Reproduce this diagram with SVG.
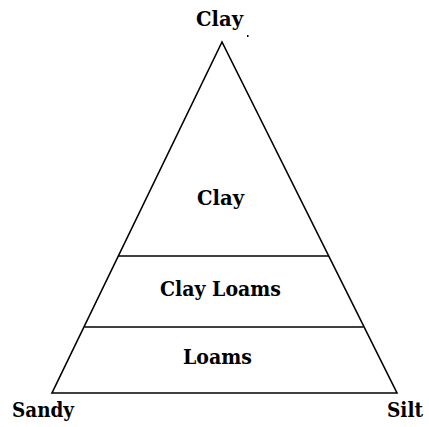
<svg xmlns="http://www.w3.org/2000/svg" width="429" height="427" viewBox="0 0 429 427">
<style>
text{font-family:'DejaVu Serif',serif;font-weight:bold;font-size:21px;fill:#000;text-anchor:middle}
.ln{stroke:#000;stroke-width:1.6;fill:none}
</style>
<rect width="429" height="427" fill="#fff"/>
<g id="connectors">
<polygon class="ln" points="222,42 52,393 397,393"/>
<line class="ln" x1="118.5" y1="256" x2="329" y2="256"/>
<line class="ln" x1="84.5" y1="327" x2="363.5" y2="327"/>
</g>
<g id="apex-label"><text x="219.5" y="26" textLength="47" lengthAdjust="spacingAndGlyphs">Clay</text></g>
<rect x="247" y="35" width="1.5" height="2" fill="#000"/>
<g id="clay"><text x="220.5" y="205" textLength="47" lengthAdjust="spacingAndGlyphs">Clay</text></g>
<g id="clay-loams"><text x="220.5" y="296" textLength="121" lengthAdjust="spacingAndGlyphs">Clay Loams</text></g>
<g id="loams"><text x="217.5" y="364" textLength="69" lengthAdjust="spacingAndGlyphs">Loams</text></g>
<g id="sandy"><text x="43" y="417" textLength="62" lengthAdjust="spacingAndGlyphs">Sandy</text></g>
<g id="silt"><text x="405" y="417" textLength="36" lengthAdjust="spacingAndGlyphs">Silt</text></g>
</svg>
